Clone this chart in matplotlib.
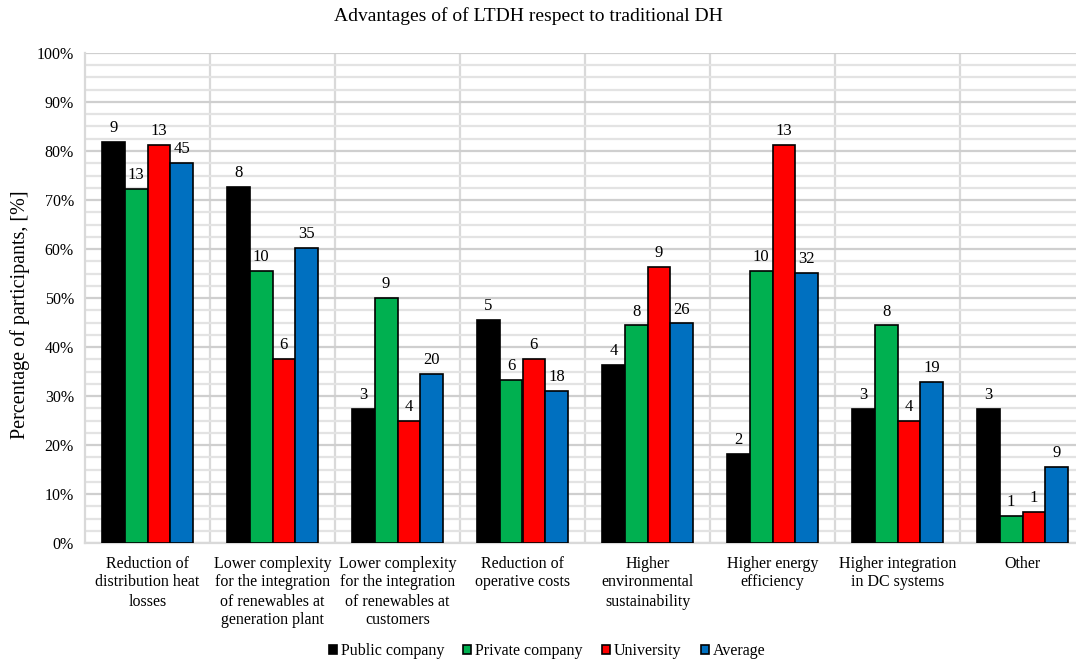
import matplotlib.pyplot as plt
import numpy as np
from matplotlib.ticker import MultipleLocator, PercentFormatter

plt.rcParams['font.family'] = ['Liberation Serif', 'DejaVu Serif']

categories = ['Reduction of\ndistribution heat\nlosses',
              'Lower complexity\nfor the integration\nof renewables at\ngeneration plant',
              'Lower complexity\nfor the integration\nof renewables at\ncustomers',
              'Reduction of\noperative costs',
              'Higher\nenvironmental\nsustainability',
              'Higher energy\nefficiency',
              'Higher integration\nin DC systems',
              'Other']

series = ['Public company', 'Private company', 'University', 'Average']
colors = ['#000000', '#00B050', '#FF0000', '#0070C0']

# percentages
public = [81.8, 72.7, 27.3, 45.5, 36.4, 18.2, 27.3, 27.3]
private = [72.2, 55.6, 50.0, 33.3, 44.4, 55.6, 44.4, 5.6]
university = [81.3, 37.5, 25.0, 37.5, 56.3, 81.3, 25.0, 6.3]
average = [77.6, 60.3, 34.5, 31.0, 44.8, 55.2, 32.8, 15.5]

# counts shown above bars
public_n = [9, 8, 3, 5, 4, 2, 3, 3]
private_n = [13, 10, 9, 6, 8, 10, 8, 1]
university_n = [13, 6, 4, 6, 9, 13, 4, 1]
average_n = [45, 35, 20, 18, 26, 32, 19, 9]

values = [public, private, university, average]
counts = [public_n, private_n, university_n, average_n]

fig = plt.figure(figsize=(10.76, 6.62), dpi=100)
ax = fig.add_axes([85 / 1076, (662 - 543) / 662, 1000 / 1076, 490 / 662])

x = np.arange(len(categories))
w = 0.182
for i, (vals, cnt) in enumerate(zip(values, counts)):
    pos = x + (i - 1.5) * w
    ax.bar(pos, vals, w, color=colors[i], edgecolor='black', linewidth=1.2,
           label=series[i], zorder=3)
    for p, v, c in zip(pos, vals, cnt):
        ax.text(p, v + 1.2, str(c), ha='center', va='bottom', fontsize=12)

ax.set_xlim(-0.5, len(categories) - 0.5)
ax.set_ylim(0, 100)
ax.yaxis.set_major_locator(MultipleLocator(10))
ax.yaxis.set_minor_locator(MultipleLocator(2.5))
ax.yaxis.set_major_formatter(PercentFormatter(decimals=0))
ax.grid(axis='y', which='major', color='#CFCFCF', linewidth=1.6, zorder=0)
ax.grid(axis='y', which='minor', color='#E3E3E3', linewidth=1.6, zorder=0)
for b in np.arange(0.5, len(categories) - 0.5):
    ax.axvline(b, color='#D9D9D9', linewidth=1.6, zorder=0)

ax.set_xticks(x)
ax.set_xticklabels(categories, fontsize=11.5, linespacing=1.25)
ax.tick_params(axis='x', length=0, pad=9)
ax.tick_params(axis='y', which='both', length=0, labelsize=11.5, pad=8)
for s in ['top', 'right']:
    ax.spines[s].set_visible(False)
for s in ['left', 'bottom']:
    ax.spines[s].set_color('#D9D9D9')
    ax.spines[s].set_linewidth(1.6)

fig.text(20 / 1076, 1 - 315 / 662, 'Percentage of participants, [%]',
         rotation=90, ha='center', va='center', fontsize=14.5)
fig.text(528 / 1076, 1 - 16 / 662, 'Advantages of of LTDH respect to traditional DH',
         ha='center', va='center', fontsize=14)

fig.legend(loc='center', bbox_to_anchor=(547 / 1076, 1 - 651 / 662), ncol=4,
           frameon=False, fontsize=11.5, handlelength=0.5, handleheight=0.5,
           handletextpad=0.25, columnspacing=1.2)

fig.savefig('out.png', dpi=100)
